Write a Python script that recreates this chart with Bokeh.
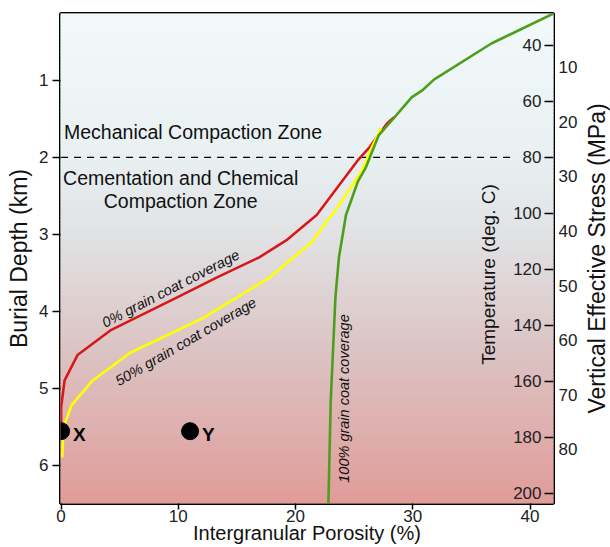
import numpy as np
from bokeh.plotting import figure
from bokeh.layouts import row
from bokeh.models import Range1d, LinearAxis, FixedTicker, ColumnDataSource
from bokeh.core.properties import value
from bokeh.embed import file_html
from bokeh.resources import INLINE

# ---------------- data ----------------
porosity_ticks = [0, 10, 20, 30, 40]
depth_ticks = [1, 2, 3, 4, 5, 6]
temp_ticks = [40, 60, 80, 100, 120, 140, 160, 180, 200]
stress_ticks = [10, 20, 30, 40, 50, 60, 70, 80]

# 0% grain coat coverage (red)
red_porosity = [28.4, 27.8, 26.3, 25.3, 21.8, 19.2, 16.9, 13.3, 9.9, 4.2, 1.4, 0.3, 0.0, 0.0]
red_depth = [1.48, 1.56, 1.87, 2.04, 2.75, 3.08, 3.30, 3.56, 3.82, 4.25, 4.57, 4.90, 5.25, 5.50]

# 50% grain coat coverage (yellow)
yellow_porosity = [27.3, 26.5, 25.6, 23.3, 22.7, 21.4, 17.8, 12.1, 5.9, 2.7, 0.9, 0.2, 0.1]
yellow_depth = [1.62, 1.87, 2.19, 2.71, 2.82, 3.10, 3.56, 4.09, 4.54, 4.90, 5.22, 5.51, 5.90]

# 100% grain coat coverage (green)
green_porosity = [42.0, 36.7, 31.8, 30.8, 29.9, 28.6, 27.1, 26.0, 25.3, 24.3, 23.7, 23.4, 23.0, 22.8]
green_depth = [0.13, 0.52, 0.99, 1.13, 1.22, 1.45, 1.71, 2.13, 2.32, 2.75, 3.30, 3.82, 5.16, 6.50]

# sample points
point_names = ["X", "Y"]
point_porosity = [0.0, 11.0]
point_depth = [5.56, 5.56]

# zone boundary
boundary_depth = [2.0, 2.0]
boundary_porosity = [0.0, 38.8]

# axis relations (depth -> temperature / stress)
depth_min, depth_max = 0.13, 6.5
porosity_min, porosity_max = -0.05, 42.0
temp_surface, temp_gradient = 25.0, 27.5
stress_ref_depth, stress_ref, stress_gradient = 0.83, 10.0, 14.1


def temp_of(d):
    return temp_surface + temp_gradient * d


def stress_of(d):
    return stress_ref + stress_gradient * (d - stress_ref_depth)


FONT = value("Liberation Sans")

p = figure(width=580, height=547,
           x_range=Range1d(porosity_min, porosity_max),
           y_range=Range1d(depth_max, depth_min),
           output_backend="svg", toolbar_location=None,
           min_border_left=60, min_border_right=26,
           min_border_top=13, min_border_bottom=44)
p.background_fill_color = "white"
p.border_fill_color = "white"
p.outline_line_color = "black"
p.outline_line_width = 3
p.xgrid.grid_line_color = None
p.ygrid.grid_line_color = None

# ---------------- background gradient ----------------
stop_d = [depth_min, 2.0, 3.0, 4.5, depth_max]
stop_rgb = np.array([[241, 249, 251], [232, 240, 242], [225, 226, 228],
                     [220, 196, 196], [224, 156, 152]], dtype=float)
edges = np.linspace(depth_min, depth_max, 141)
mids = 0.5 * (edges[:-1] + edges[1:])
cols = []
for m in mids:
    rgb = [np.interp(m, stop_d, stop_rgb[:, k]) for k in range(3)]
    cols.append("#%02x%02x%02x" % tuple(int(round(c)) for c in rgb))
p.quad(left=porosity_min, right=porosity_max, top=edges[:-1], bottom=edges[1:],
       fill_color=cols, line_color=cols, line_width=1)

# ---------------- zone boundary + text ----------------
p.line(boundary_porosity, boundary_depth, line_color="black", line_width=1.2,
       line_dash="7 6")

zone_src = ColumnDataSource(dict(
    x=[0.25, 10.2, 10.2],
    y=[1.675, 2.27, 2.57],
    t=["Mechanical Compaction Zone", "Cementation and Chemical", "Compaction Zone"],
    a=["left", "center", "center"]))
p.text(x="x", y="y", text="t", text_align="a", source=zone_src,
       text_baseline="middle", text_font=FONT, text_font_size="19.5px",
       text_color="#111111")

# ---------------- curves ----------------
p.line(red_porosity, red_depth, line_color="#d7191c", line_width=2.6)
p.line(yellow_porosity, yellow_depth, line_color="#ffff00", line_width=2.6)
p.line(green_porosity, green_depth, line_color="#4e9e1e", line_width=2.6)

p.text(x=[3.57], y=[4.16], text=["0% grain coat coverage"], angle=np.deg2rad(27.3),
       text_font=FONT, text_font_size="14.5px", text_font_style="italic",
       text_baseline="alphabetic", text_align="left", text_color="#111111")
p.text(x=[4.73], y=[4.92], text=["50% grain coat coverage"], angle=np.deg2rad(30.3),
       text_font=FONT, text_font_size="14.5px", text_font_style="italic",
       text_baseline="alphabetic", text_align="left", text_color="#111111")
p.text(x=[24.15], y=[6.23], text=["100% grain coat coverage"], angle=np.pi / 2,
       text_font=FONT, text_font_size="14.5px", text_font_style="italic",
       text_baseline="middle", text_align="left", text_color="#111111")

# ---------------- sample points ----------------
p.scatter(point_porosity, point_depth, size=17, fill_color="black", line_color="black")
p.text(x=point_porosity, y=point_depth, text=point_names, x_offset=12, y_offset=3,
       text_baseline="middle", text_align="left", text_font=FONT,
       text_font_size="19px", text_font_style="bold", text_color="black")

# ---------------- axes ----------------
for ax in (p.xaxis[0], p.yaxis[0]):
    ax.axis_line_color = None
    ax.minor_tick_line_color = None
    ax.major_tick_line_color = "black"
    ax.major_tick_line_width = 1.5
    ax.major_tick_in = 0
    ax.major_label_text_font = "Liberation Sans"
    ax.major_label_text_font_size = "17px"
    ax.major_label_text_color = "#222222"
    ax.axis_label_text_font = "Liberation Sans"
    ax.axis_label_text_font_style = "normal"
    ax.axis_label_text_color = "#111111"

p.xaxis.ticker = FixedTicker(ticks=porosity_ticks)
p.xaxis.axis_label = "Intergranular Porosity (%)"
p.xaxis.axis_label_text_font_size = "20px"
p.xaxis.major_tick_out = 6
p.xaxis.major_label_standoff = 0
p.xaxis.axis_label_standoff = -3

p.yaxis.ticker = FixedTicker(ticks=depth_ticks)
p.yaxis.axis_label = "Burial Depth (km)"
p.yaxis.axis_label_text_font_size = "23px"
p.yaxis.major_tick_out = 8
p.yaxis.major_label_standoff = 4
p.yaxis.axis_label_standoff = 4

p.extra_y_ranges = {
    "temp": Range1d(temp_of(depth_max), temp_of(depth_min)),
    "stress": Range1d(stress_of(depth_max), stress_of(depth_min)),
}

temp_axis = LinearAxis(y_range_name="temp", ticker=FixedTicker(ticks=temp_ticks),
                       axis_label="Temperature (deg. C)", fixed_location=porosity_max,
                       bounds=(40, 207))
temp_axis.axis_line_color = None
temp_axis.minor_tick_line_color = None
temp_axis.major_tick_out = 9
temp_axis.major_tick_in = 0
temp_axis.major_tick_line_width = 1.5
temp_axis.major_label_standoff = 3
temp_axis.major_label_text_font = "Liberation Sans"
temp_axis.major_label_text_font_size = "17px"
temp_axis.major_label_text_color = "#222222"
temp_axis.axis_label_standoff = 11
temp_axis.axis_label_text_font = "Liberation Sans"
temp_axis.axis_label_text_font_style = "normal"
temp_axis.axis_label_text_font_size = "19px"
temp_axis.axis_label_text_color = "#111111"
p.add_layout(temp_axis, "left")

stress_axis = LinearAxis(y_range_name="stress", ticker=FixedTicker(ticks=stress_ticks))
stress_axis.axis_line_color = None
stress_axis.minor_tick_line_color = None
stress_axis.major_tick_out = 0
stress_axis.major_tick_in = 0
stress_axis.major_label_standoff = 5
stress_axis.major_label_text_font = "Liberation Sans"
stress_axis.major_label_text_font_size = "17px"
stress_axis.major_label_text_color = "#222222"
p.add_layout(stress_axis, "right")

# ---------------- stress axis title (reads bottom-to-top) ----------------
# a narrow companion figure whose only visible element is its left axis title;
# same top/bottom borders as the main figure so the two frames line up
q = figure(width=30, height=547, x_range=Range1d(0, 1), y_range=Range1d(0, 1),
           output_backend="svg", toolbar_location=None,
           min_border_left=0, min_border_right=0,
           min_border_top=13, min_border_bottom=44)
q.background_fill_color = "white"
q.border_fill_color = "white"
q.outline_line_color = None
q.grid.visible = False
q.xaxis.visible = False
q.yaxis.ticker = FixedTicker(ticks=[])
q.yaxis.axis_line_color = None
q.yaxis.major_tick_line_color = None
q.yaxis.minor_tick_line_color = None
q.yaxis.major_tick_out = 0
q.yaxis.major_tick_in = 0
q.yaxis.minor_tick_out = 0
q.yaxis.major_label_standoff = 0
q.yaxis.axis_label = "Vertical Effective Stress (MPa)"
q.yaxis.axis_label_standoff = 0
q.yaxis.axis_label_text_font = "Liberation Sans"
q.yaxis.axis_label_text_font_style = "normal"
q.yaxis.axis_label_text_font_size = "23px"
q.yaxis.axis_label_text_color = "#111111"

layout = row(p, q, spacing=0)

open("out.html", "w").write(file_html(layout, INLINE))
